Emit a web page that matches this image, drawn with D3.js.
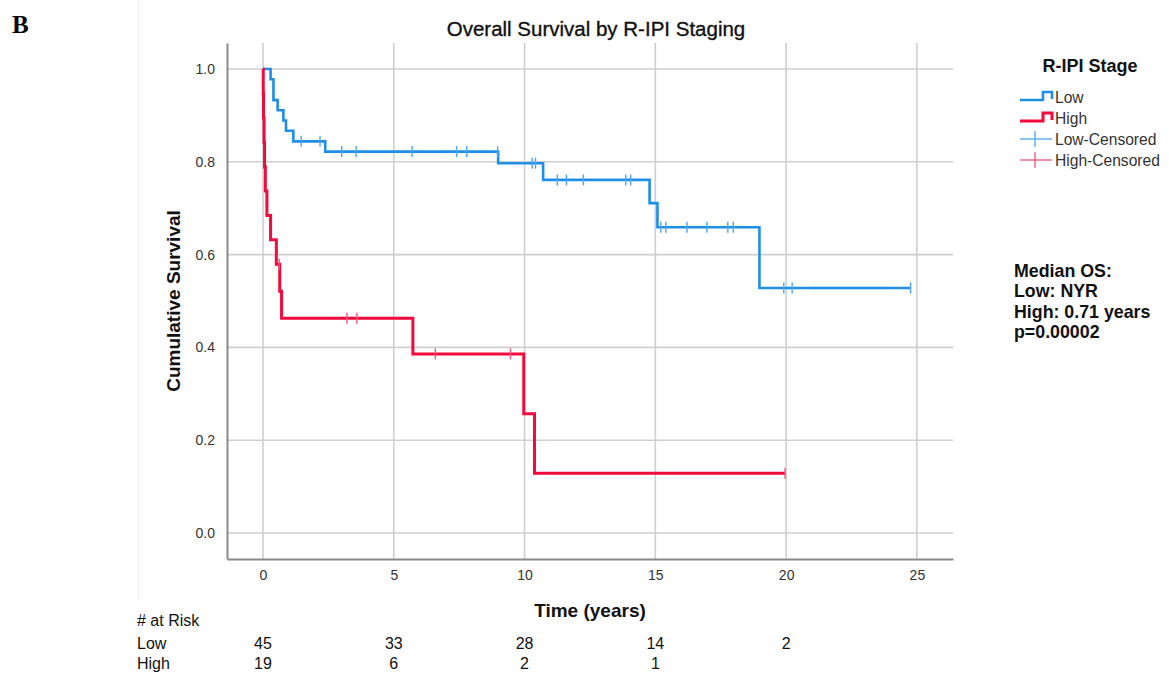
<!DOCTYPE html>
<html>
<head>
<meta charset="utf-8">
<script src="https://cdn.jsdelivr.net/npm/d3@7"></script>
<style>
  html, body { margin: 0; padding: 0; background: #fff; }
  svg { display: block; font-family: "Liberation Sans", Arial, sans-serif; }
</style>
</head>
<body>
<svg id="chart" width="1169" height="675"></svg>
<script>
// ---------------- data ----------------
const lowTimes  = [0, 0.29, 0.40, 0.56, 0.78, 0.88, 1.16, 2.38, 8.99, 10.71, 14.78, 15.08, 18.98];
const lowSurv   = [1.0, 0.978, 0.933, 0.911, 0.889, 0.867, 0.844, 0.822, 0.797, 0.761, 0.711, 0.659, 0.528];
const lowCensor = [1.46, 2.18, 3.01, 3.56, 5.70, 7.40, 7.79, 8.97, 10.29, 10.42, 11.25, 11.60, 12.25,
                   13.87, 14.06, 15.21, 15.40, 16.21, 16.97, 17.77, 17.98, 19.91, 20.23, 24.76];

const highTimes  = [0, 0.01, 0.02, 0.04, 0.06, 0.09, 0.15, 0.29, 0.51, 0.64, 0.71, 5.73, 9.97, 10.38];
const highSurv   = [1.0, 0.947, 0.895, 0.842, 0.789, 0.737, 0.684, 0.632, 0.579, 0.521, 0.463, 0.386, 0.257, 0.129];
const highCensor = [0.62, 3.21, 3.59, 6.59, 9.46, 19.96];

const xTicks = [0, 5, 10, 15, 20, 25];
const yTicks = [0, 0.2, 0.4, 0.6, 0.8, 1.0];

const riskTimes = [0, 5, 10, 15, 20];
const riskLow  = [45, 33, 28, 14, 2];
const riskHigh = [19, 6, 2, 1];

const legendLabels = ["Low", "High", "Low-Censored", "High-Censored"];
const medianLines = ["Median OS:", "Low: NYR", "High: 0.71 years", "p=0.00002"];

// ---------------- layout ----------------
const svg = d3.select("#chart");
const colLow = "#1f8fe6", colHigh = "#f20a3c";
const colLowC = "#4ea6ee", colHighC = "#f0557a";

const x = d3.scaleLinear().domain([-1.376, 26.38]).range([227, 953]);
const y = d3.scaleLinear().domain([-0.056, 1.056]).range([559, 43]);

// faint panel separator
svg.append("line").attr("x1", 138.5).attr("x2", 138.5).attr("y1", 0).attr("y2", 600)
  .attr("stroke", "#f0f0f0").attr("stroke-width", 1);

// panel letter
svg.append("text").attr("x", 12).attr("y", 33)
  .attr("font-family", "'Liberation Serif', 'DejaVu Serif', serif")
  .attr("font-weight", "bold").attr("font-size", 25).attr("fill", "#000").text("B");

// title
svg.append("text").attr("x", 596).attr("y", 36).attr("text-anchor", "middle")
  .attr("font-size", 20.5).attr("fill", "#111").attr("stroke", "#111").attr("stroke-width", 0.35)
  .text("Overall Survival by R-IPI Staging");

// gridlines
const grid = svg.append("g");
grid.selectAll("line.h").data(yTicks).join("line")
  .attr("x1", x.range()[0]).attr("x2", x.range()[1])
  .attr("y1", d => y(d)).attr("y2", d => y(d))
  .attr("stroke", "#cfcfcf").attr("stroke-width", 1.6);
grid.selectAll("line.v").data(xTicks).join("line")
  .attr("x1", d => x(d)).attr("x2", d => x(d))
  .attr("y1", y.range()[1]).attr("y2", y.range()[0])
  .attr("stroke", "#cfcfcf").attr("stroke-width", 1.6);

// axes
const xAxis = svg.append("g").attr("transform", `translate(0,${y.range()[0]})`)
  .call(d3.axisBottom(x).tickValues(xTicks).tickSize(0).tickPadding(11).tickFormat(d3.format("d")));
const yAxis = svg.append("g").attr("transform", `translate(${x.range()[0]},0)`)
  .call(d3.axisLeft(y).tickValues(yTicks).tickSize(0).tickPadding(12).tickFormat(d3.format(".1f")));
[xAxis, yAxis].forEach(g => {
  g.select(".domain").attr("stroke", "#8a8a8a").attr("stroke-width", 2);
  g.selectAll("text").attr("font-family", "'Liberation Sans', Arial, sans-serif")
    .attr("font-size", 14).attr("fill", "#333");
});

// axis titles
svg.append("text").attr("transform", `translate(180,${y(0.5)}) rotate(-90)`)
  .attr("text-anchor", "middle").attr("font-weight", "bold").attr("font-size", 19)
  .attr("fill", "#111").text("Cumulative Survival");
svg.append("text").attr("x", 590).attr("y", 617).attr("text-anchor", "middle")
  .attr("font-weight", "bold").attr("font-size", 19).attr("fill", "#111").text("Time (years)");

// survival curves
function stepPoints(times, surv, censor) {
  const pts = times.map((t, i) => [t, surv[i]]);
  const tEnd = d3.max(censor.concat(times));
  pts.push([tEnd, surv[surv.length - 1]]);
  return pts;
}
function survAt(times, surv, t) {
  let s = surv[0];
  for (let i = 0; i < times.length; i++) if (times[i] <= t) s = surv[i];
  return s;
}
const line = d3.line().x(d => x(d[0])).y(d => y(d[1])).curve(d3.curveStepAfter);

function drawGroup(times, surv, censor, color, cColor, width) {
  svg.append("path").datum(stepPoints(times, surv, censor))
    .attr("d", line).attr("fill", "none").attr("stroke", color)
    .attr("stroke-width", width).attr("stroke-linejoin", "miter");
  svg.append("g").selectAll("line").data(censor).join("line")
    .attr("x1", d => x(d)).attr("x2", d => x(d))
    .attr("y1", d => y(survAt(times, surv, d)) - 5.5)
    .attr("y2", d => y(survAt(times, surv, d)) + 5.5)
    .attr("stroke", cColor).attr("stroke-width", 1.4);
}
drawGroup(lowTimes, lowSurv, lowCensor, colLow, colLowC, 2.6);
drawGroup(highTimes, highSurv, highCensor, colHigh, colHighC, 3);

// legend
const lg = svg.append("g");
lg.append("text").attr("x", 1090).attr("y", 72).attr("text-anchor", "middle")
  .attr("font-weight", "bold").attr("font-size", 18).attr("fill", "#111").text("R-IPI Stage");
const rowY = [97, 118, 139, 160];
const iconPath = yy => `M1020,${yy + 3}H1043V${yy - 5}H1052V${yy + 2}`;
lg.append("path").attr("d", iconPath(rowY[0])).attr("fill", "none").attr("stroke", colLow).attr("stroke-width", 2.6);
lg.append("path").attr("d", iconPath(rowY[1])).attr("fill", "none").attr("stroke", colHigh).attr("stroke-width", 3);
[[rowY[2], colLowC], [rowY[3], colHighC]].forEach(([yy, c]) => {
  lg.append("line").attr("x1", 1020).attr("x2", 1052).attr("y1", yy).attr("y2", yy).attr("stroke", c).attr("stroke-width", 1.3);
  lg.append("line").attr("x1", 1035).attr("x2", 1035).attr("y1", yy - 8).attr("y2", yy + 8).attr("stroke", c).attr("stroke-width", 1.3);
});
lg.selectAll("text.item").data(legendLabels).join("text").attr("class", "item")
  .attr("x", 1055).attr("y", (d, i) => rowY[i] + 5.5)
  .attr("font-size", 15.6).attr("fill", "#333").text(d => d);

// median text
svg.append("g").selectAll("text").data(medianLines).join("text")
  .attr("x", 1014).attr("y", (d, i) => 277 + i * 20.3)
  .attr("font-weight", "bold").attr("font-size", 17.8).attr("fill", "#111").text(d => d);

// at-risk table
const rt = svg.append("g").attr("font-size", 16).attr("fill", "#111");
rt.append("text").attr("x", 137).attr("y", 626).text("# at Risk");
rt.append("text").attr("x", 137).attr("y", 649).text("Low");
rt.append("text").attr("x", 137).attr("y", 669).text("High");
rt.selectAll("text.low").data(riskLow).join("text").attr("class", "low")
  .attr("x", (d, i) => x(riskTimes[i])).attr("y", 649).attr("text-anchor", "middle").text(d => d);
rt.selectAll("text.high").data(riskHigh).join("text").attr("class", "high")
  .attr("x", (d, i) => x(riskTimes[i])).attr("y", 669).attr("text-anchor", "middle").text(d => d);
</script>
</body>
</html>
